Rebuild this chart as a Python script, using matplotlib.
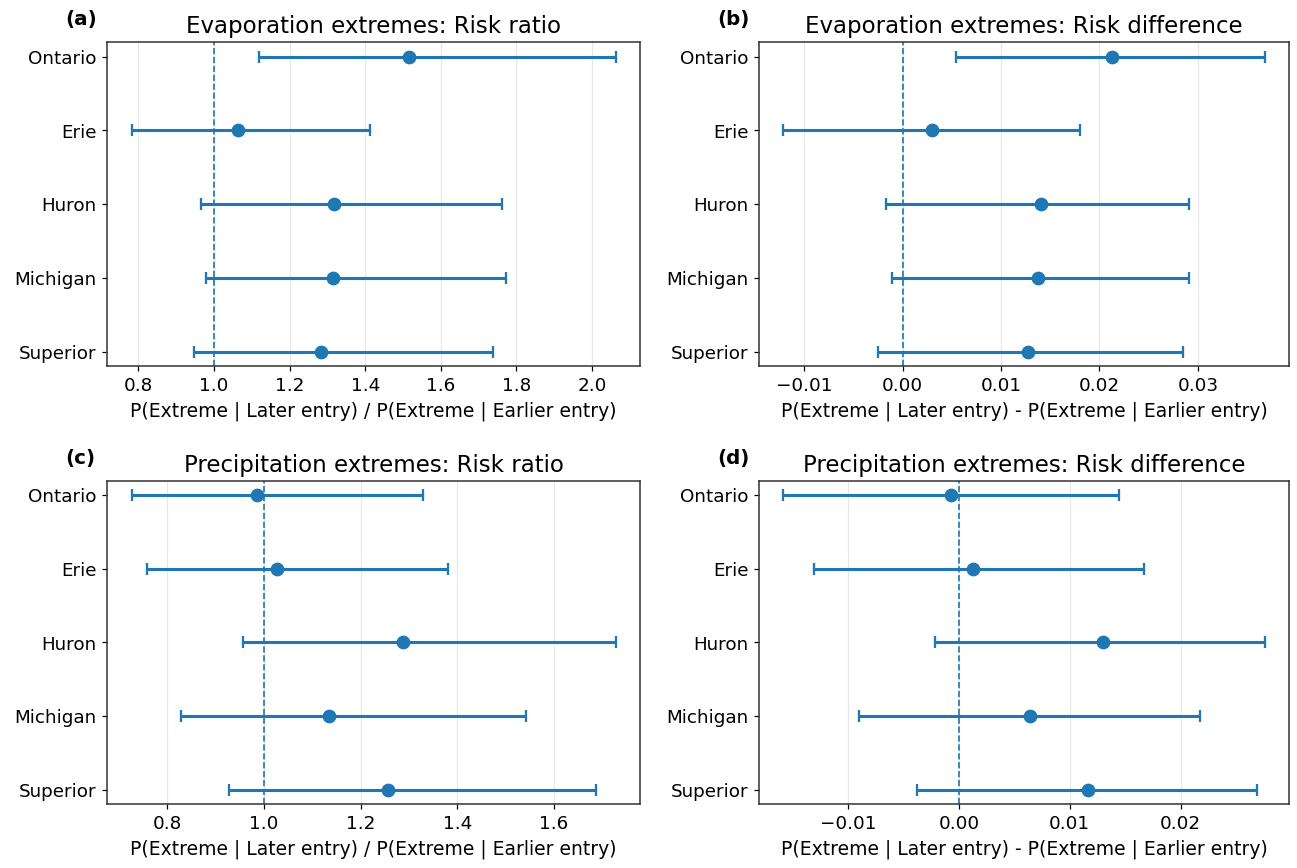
import matplotlib
matplotlib.use("Agg")
import matplotlib.pyplot as plt
import numpy as np

lakes = ["Superior", "Michigan", "Huron", "Erie", "Ontario"]

# Evaporation extremes: risk ratio (point, lower, upper) ordered as lakes
evap_rr = [1.282, 1.315, 1.318, 1.064, 1.517]
evap_rr_lo = [0.947, 0.980, 0.967, 0.782, 1.118]
evap_rr_hi = [1.739, 1.772, 1.763, 1.414, 2.063]

# Evaporation extremes: risk difference
evap_rd = [0.01272, 0.01376, 0.01409, 0.00298, 0.02124]
evap_rd_lo = [-0.00252, -0.00104, -0.00165, -0.01215, 0.00539]
evap_rd_hi = [0.02853, 0.02911, 0.02914, 0.01807, 0.03683]

# Precipitation extremes: risk ratio
prec_rr = [1.257, 1.135, 1.288, 1.026, 0.985]
prec_rr_lo = [0.928, 0.829, 0.956, 0.759, 0.726]
prec_rr_hi = [1.687, 1.542, 1.728, 1.380, 1.329]

# Precipitation extremes: risk difference
prec_rd = [0.01165, 0.00645, 0.01296, 0.00124, -0.00070]
prec_rd_lo = [-0.00377, -0.00906, -0.00217, -0.01305, -0.01586]
prec_rd_hi = [0.02691, 0.02170, 0.02761, 0.01666, 0.01440]

titles = ["Evaporation extremes: Risk ratio", "Evaporation extremes: Risk difference",
          "Precipitation extremes: Risk ratio", "Precipitation extremes: Risk difference"]
panel_labels = ["(a)", "(b)", "(c)", "(d)"]
xlabel_ratio = "P(Extreme | Later entry) / P(Extreme | Earlier entry)"
xlabel_diff = "P(Extreme | Later entry) - P(Extreme | Earlier entry)"

W, H = 1297, 868
DPI = 110
fig = plt.figure(figsize=(W / DPI + 0.001, H / DPI + 0.001), dpi=DPI)

plt.rcParams["axes.edgecolor"] = "#333333"

# (left, top, right, bottom) in pixels
positions = [
    (107.3, 42.0, 640.0, 366.5),
    (759.0, 42.0, 1289.0, 366.5),
    (107.3, 480.7, 640.0, 804.3),
    (759.0, 480.7, 1289.0, 804.3),
]

datasets = [
    (evap_rr, evap_rr_lo, evap_rr_hi, 1.0, xlabel_ratio),
    (evap_rd, evap_rd_lo, evap_rd_hi, 0.0, xlabel_diff),
    (prec_rr, prec_rr_lo, prec_rr_hi, 1.0, xlabel_ratio),
    (prec_rd, prec_rd_lo, prec_rd_hi, 0.0, xlabel_diff),
]

for (l, t, r, b), (pt, lo, hi, ref, xl), title, pl in zip(positions, datasets, titles, panel_labels):
    ax = fig.add_axes([l / W, 1 - b / H, (r - l) / W, (b - t) / H])
    pt = np.array(pt)
    lo = np.array(lo)
    hi = np.array(hi)
    y = np.arange(len(lakes))
    ax.errorbar(pt, y, xerr=[pt - lo, hi - pt], fmt="o", color="C0",
                markersize=8, elinewidth=2, capsize=4, capthick=1.5, zorder=3)
    ax.axvline(ref, linestyle="--", color="C0", linewidth=1.1, zorder=2)
    ax.set_yticks(y)
    ax.set_yticklabels(lakes)
    ax.grid(axis="x", alpha=0.3, zorder=0)
    ax.set_axisbelow(True)
    ax.tick_params(labelsize=12)
    ax.set_xlabel(xl, fontsize=12.3)
    ax.set_title(title, fontsize=15)
    for s in ax.spines.values():
        s.set_linewidth(1.0)
    ax.text(-0.079, 1.04, pl, transform=ax.transAxes, fontsize=13,
            fontweight="bold", ha="left", va="bottom")

fig.savefig("out.png", dpi=DPI)
